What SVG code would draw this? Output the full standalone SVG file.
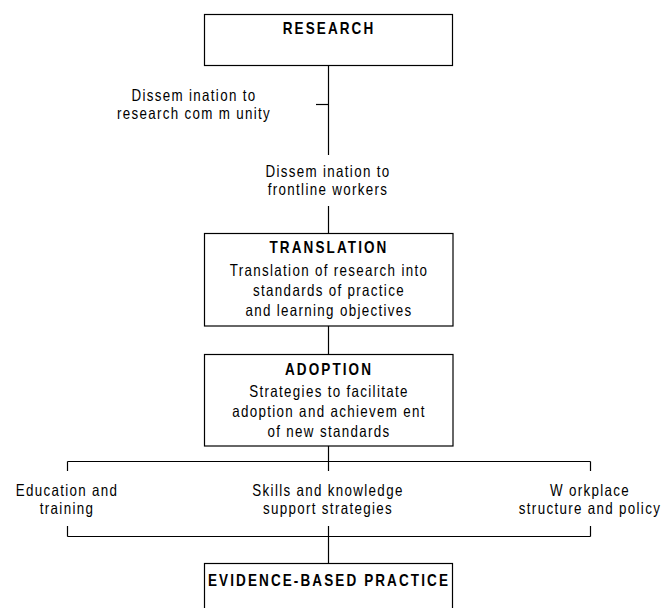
<svg xmlns="http://www.w3.org/2000/svg" width="662" height="608" viewBox="0 0 662 608">
<style>
rect.box { fill: #fff; stroke: #000; stroke-width: 1.2; }
.conn line { stroke: #000; stroke-width: 1.2; fill: none; }
text { font-family: "Liberation Sans", Arial, Helvetica, sans-serif; fill: #000; text-anchor: middle; }
.t { font-size: 16.3px; letter-spacing: 1.62px; }
.b { font-size: 16.5px; font-weight: bold; letter-spacing: 2.56px; }
</style>
<rect width="662" height="608" fill="#fff"/>
<g id="connectors" class="conn">
  <line x1="328.5" y1="65.5" x2="328.5" y2="155"/>
  <line x1="316" y1="104.5" x2="328.5" y2="104.5"/>
  <line x1="328.5" y1="206" x2="328.5" y2="234"/>
  <line x1="328.5" y1="326" x2="328.5" y2="354.5"/>
  <line x1="328.5" y1="446" x2="328.5" y2="471"/>
  <line x1="67.5" y1="461.5" x2="590.5" y2="461.5"/>
  <line x1="67.5" y1="461.5" x2="67.5" y2="471"/>
  <line x1="590.5" y1="461.5" x2="590.5" y2="471"/>
  <line x1="67.5" y1="526" x2="67.5" y2="536.5"/>
  <line x1="590.5" y1="526" x2="590.5" y2="536.5"/>
  <line x1="67.5" y1="536.5" x2="590.5" y2="536.5"/>
  <line x1="328.5" y1="526" x2="328.5" y2="563.5"/>
</g>
<g id="label-research-community">
  <text class="t" transform="translate(194 101) scale(0.82 1)">Dissem ination to</text>
  <text class="t" transform="translate(194 119) scale(0.82 1)">research com m unity</text>
</g>
<g id="label-frontline">
  <text class="t" transform="translate(328 177) scale(0.82 1)">Dissem ination to</text>
  <text class="t" transform="translate(328 195) scale(0.82 1)">frontline workers</text>
</g>
<g id="research">
  <rect class="box" x="204.5" y="14.5" width="248" height="51"/>
  <text class="b" transform="translate(329 34) scale(0.82 1)">RESEARCH</text>
</g>
<g id="translation">
  <rect class="box" x="204.5" y="233.5" width="248.5" height="92.5"/>
  <text class="b" transform="translate(329 253) scale(0.82 1)">TRANSLATION</text>
  <text class="t" transform="translate(329 275.5) scale(0.82 1)">Translation of research into</text>
  <text class="t" transform="translate(329 296) scale(0.82 1)">standards of practice</text>
  <text class="t" transform="translate(329 316) scale(0.82 1)">and learning objectives</text>
</g>
<g id="adoption">
  <rect class="box" x="204.5" y="354.5" width="248.5" height="91.5"/>
  <text class="b" transform="translate(329 375) scale(0.82 1)">ADOPTION</text>
  <text class="t" transform="translate(329 396.5) scale(0.82 1)">Strategies to facilitate</text>
  <text class="t" transform="translate(329 417) scale(0.82 1)">adoption and achievem ent</text>
  <text class="t" transform="translate(329 437) scale(0.82 1)">of new standards</text>
</g>
<g id="education">
  <text class="t" transform="translate(67 495.5) scale(0.82 1)">Education and</text>
  <text class="t" transform="translate(67 514) scale(0.82 1)">training</text>
</g>
<g id="skills">
  <text class="t" transform="translate(328 495.5) scale(0.82 1)">Skills and knowledge</text>
  <text class="t" transform="translate(328 514) scale(0.82 1)">support strategies</text>
</g>
<g id="workplace">
  <text class="t" transform="translate(590 495.5) scale(0.82 1)">W orkplace</text>
  <text class="t" transform="translate(590 514) scale(0.82 1)">structure and policy</text>
</g>
<g id="evidence-based-practice">
  <rect class="box" x="204.5" y="563.5" width="248" height="50"/>
  <text class="b" transform="translate(329 585.5) scale(0.82 1)">EVIDENCE-BASED PRACTICE</text>
</g>
</svg>
